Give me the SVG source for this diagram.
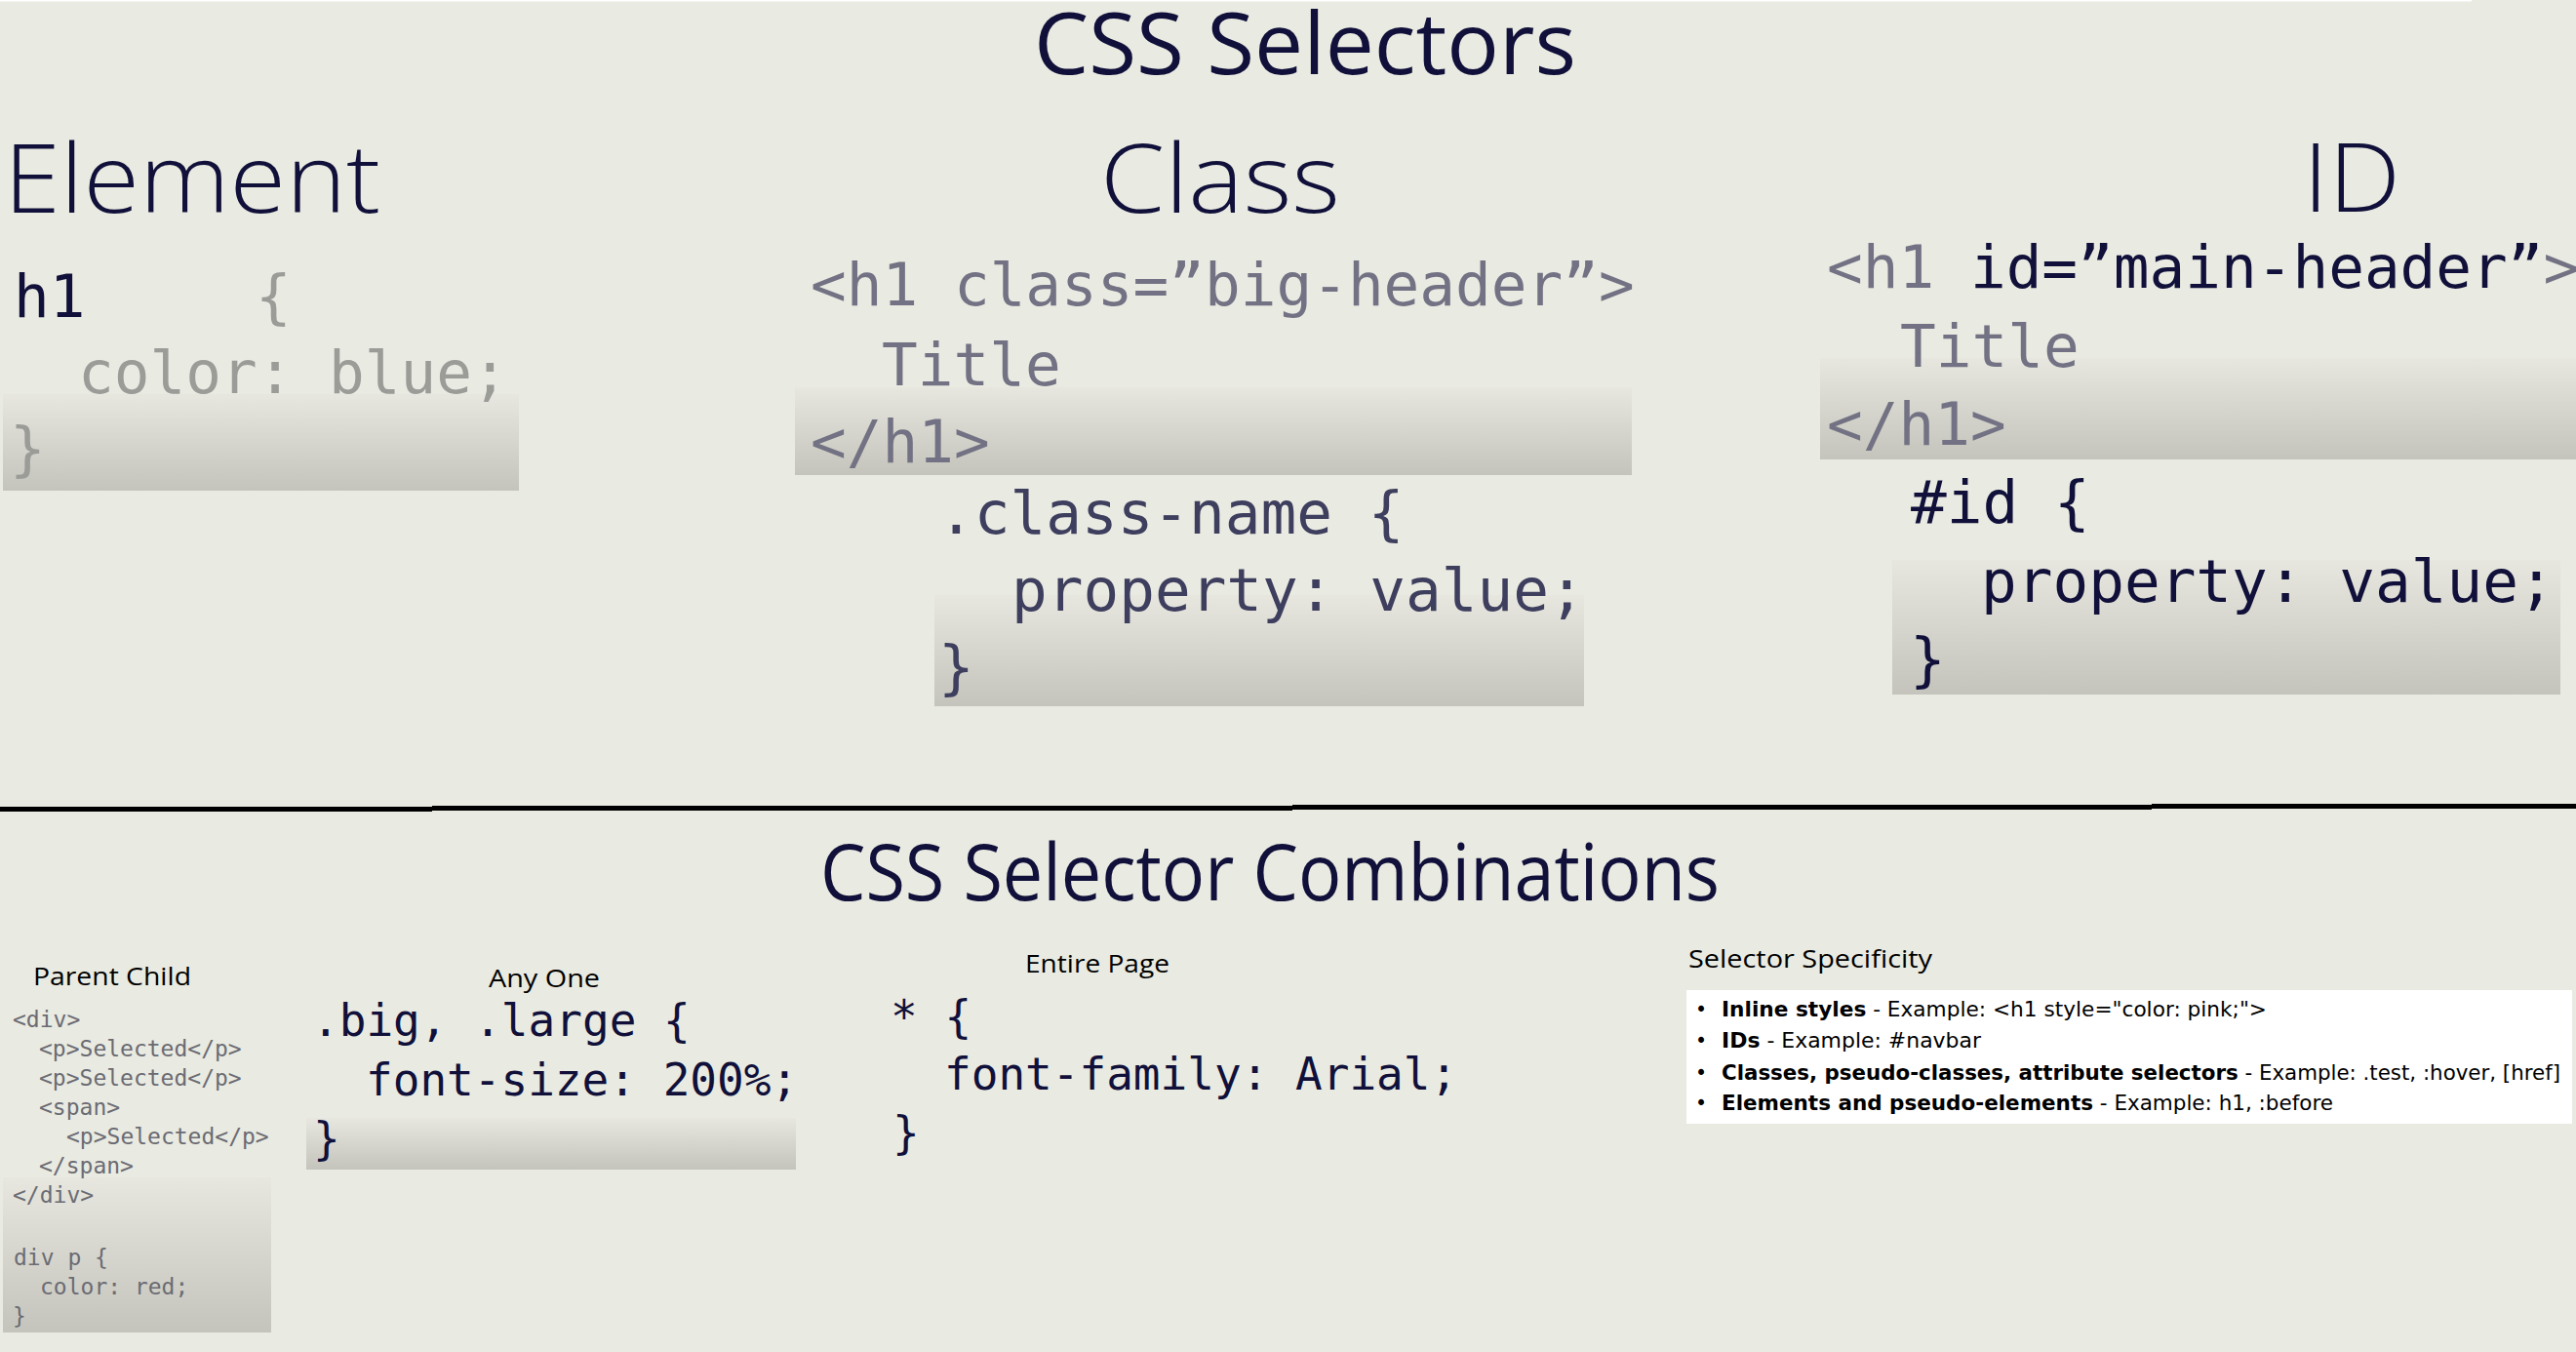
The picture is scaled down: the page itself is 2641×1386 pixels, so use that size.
<svg xmlns="http://www.w3.org/2000/svg" width="2641" height="1386" viewBox="0 0 2641 1386">
<defs>
<linearGradient id="shade" x1="0" y1="0" x2="0" y2="1">
<stop offset="0" stop-color="#e7e7df"/>
<stop offset="1" stop-color="#c4c4bc"/>
</linearGradient>
<style>
.head{font-family:"Open Sans","Noto Sans","Liberation Sans",sans-serif;fill:#10103a;}
.thin{font-weight:300;}
.lbl{font-family:"Open Sans","Noto Sans","Liberation Sans",sans-serif;fill:#000;font-size:26px;}
.code{font-family:"DejaVu Sans Mono","Liberation Mono",monospace;}
.big{font-size:61px;}
.mid{font-size:46px;}
.sm{font-size:23px;}
.dark{fill:#10103a;}
.tag{fill:#727284;}
.slate{fill:#3e3e5e;}
.lgray{fill:#9b9b98;}
.pgray{fill:#6b6b73;}
.box{fill:url(#shade);}
.spec{font-family:"DejaVu Sans","Liberation Sans",sans-serif;font-size:20.5px;fill:#000;}
.b{font-weight:bold;}
</style>
</defs>
<rect x="0" y="0" width="2641" height="1386" fill="#e9eae1"/>
<rect x="0" y="0" width="2534" height="1.5" fill="#ffffff"/>

<g id="title">
<text class="head" x="1060" y="76" font-size="87" textLength="556" lengthAdjust="spacingAndGlyphs">CSS Selectors</text>
</g>

<g id="element">
<rect class="box" x="3" y="404" width="529" height="99"/>
<text class="head thin" x="4" y="218" font-size="98" textLength="386" lengthAdjust="spacingAndGlyphs">Element</text>
<text class="code big dark" x="14" y="325">h1</text>
<text class="code big lgray" x="262" y="325">{</text>
<text class="code big lgray" x="80" y="403">color: blue;</text>
<text class="code big lgray" x="10" y="481">}</text>
</g>

<g id="class">
<rect class="box" x="815" y="397" width="858" height="90"/>
<rect class="box" x="958" y="610" width="666" height="114"/>
<text class="head thin" x="1128" y="218" font-size="98" textLength="246" lengthAdjust="spacingAndGlyphs">Class</text>
<text class="code big tag" x="831" y="313">&lt;h1 class=”big-header”&gt;</text>
<text class="code big tag" x="904" y="395">Title</text>
<text class="code big tag" x="831" y="474">&lt;/h1&gt;</text>
<text class="code big slate" x="962" y="547">.class-name {</text>
<text class="code big slate" x="1037" y="626">property: value;</text>
<text class="code big slate" x="962" y="705">}</text>
</g>

<g id="id">
<rect class="box" x="1866" y="367" width="775" height="104"/>
<rect class="box" x="1940" y="574" width="685" height="138"/>
<text class="head thin" x="2361" y="217" font-size="98" textLength="100" lengthAdjust="spacingAndGlyphs">ID</text>
<text class="code big" x="1873" y="295"><tspan class="tag">&lt;h1 </tspan><tspan class="dark">id=”main-header”</tspan><tspan class="tag">&gt;</tspan></text>
<text class="code big tag" x="1948" y="376">Title</text>
<text class="code big tag" x="1873" y="456">&lt;/h1&gt;</text>
<text class="code big dark" x="1959" y="536">#id {</text>
<text class="code big dark" x="2031" y="617">property: value;</text>
<text class="code big dark" x="1958" y="697">}</text>
</g>

<g id="divider">
<rect x="0" y="827" width="443" height="5" fill="#000"/>
<rect x="443" y="826" width="882" height="5" fill="#000"/>
<rect x="1325" y="825" width="881" height="5" fill="#000"/>
<rect x="2206" y="824" width="435" height="5" fill="#000"/>
</g>

<g id="combinations-title">
<text class="head" x="841" y="923" font-size="80" textLength="922" lengthAdjust="spacingAndGlyphs">CSS Selector Combinations</text>
</g>

<g id="parent-child">
<rect class="box" x="3" y="1207" width="275" height="159"/>
<text class="lbl" x="34" y="1010" font-size="27" textLength="162" lengthAdjust="spacingAndGlyphs">Parent Child</text>
<text class="code sm pgray" x="13" y="1053">&lt;div&gt;</text>
<text class="code sm pgray" x="40" y="1083">&lt;p&gt;Selected&lt;/p&gt;</text>
<text class="code sm pgray" x="40" y="1113">&lt;p&gt;Selected&lt;/p&gt;</text>
<text class="code sm pgray" x="40" y="1143">&lt;span&gt;</text>
<text class="code sm pgray" x="68" y="1173">&lt;p&gt;Selected&lt;/p&gt;</text>
<text class="code sm pgray" x="40" y="1203">&lt;/span&gt;</text>
<text class="code sm pgray" x="13" y="1233">&lt;/div&gt;</text>
<text class="code sm pgray" x="14" y="1297">div p {</text>
<text class="code sm pgray" x="41" y="1327">color: red;</text>
<text class="code sm pgray" x="13" y="1357">}</text>
</g>

<g id="any-one">
<rect class="box" x="314" y="1146" width="502" height="53"/>
<text class="lbl" x="501" y="1012" textLength="114" lengthAdjust="spacingAndGlyphs">Any One</text>
<text class="code mid dark" x="320" y="1062">.big, .large {</text>
<text class="code mid dark" x="375" y="1123">font-size: 200%;</text>
<text class="code mid dark" x="321" y="1183">}</text>
</g>

<g id="entire-page">
<text class="lbl" x="1051" y="997" textLength="148" lengthAdjust="spacingAndGlyphs">Entire Page</text>
<text class="code mid dark" x="913" y="1058">* {</text>
<text class="code mid dark" x="968" y="1117">font-family: Arial;</text>
<text class="code mid dark" x="915" y="1177">}</text>
</g>

<g id="specificity">
<text class="lbl" x="1731" y="992" font-size="28" textLength="250" lengthAdjust="spacingAndGlyphs">Selector Specificity</text>
<rect x="1729" y="1015" width="908" height="137" fill="#ffffff"/>
<text class="spec" x="1738" y="1042">•</text>
<text class="spec" x="1738" y="1074">•</text>
<text class="spec" x="1738" y="1107">•</text>
<text class="spec" x="1738" y="1138">•</text>
<text class="spec" x="1765" y="1042" textLength="559" lengthAdjust="spacingAndGlyphs"><tspan class="b">Inline styles</tspan> - Example: &lt;h1 style="color: pink;"&gt;</text>
<text class="spec" x="1765" y="1074" textLength="266" lengthAdjust="spacingAndGlyphs"><tspan class="b">IDs</tspan> - Example: #navbar</text>
<text class="spec" x="1765" y="1107" textLength="860" lengthAdjust="spacingAndGlyphs"><tspan class="b">Classes, pseudo-classes, attribute selectors</tspan> - Example: .test, :hover, [href]</text>
<text class="spec" x="1765" y="1138" textLength="627" lengthAdjust="spacingAndGlyphs"><tspan class="b">Elements and pseudo-elements</tspan> - Example: h1, :before</text>
</g>
</svg>
